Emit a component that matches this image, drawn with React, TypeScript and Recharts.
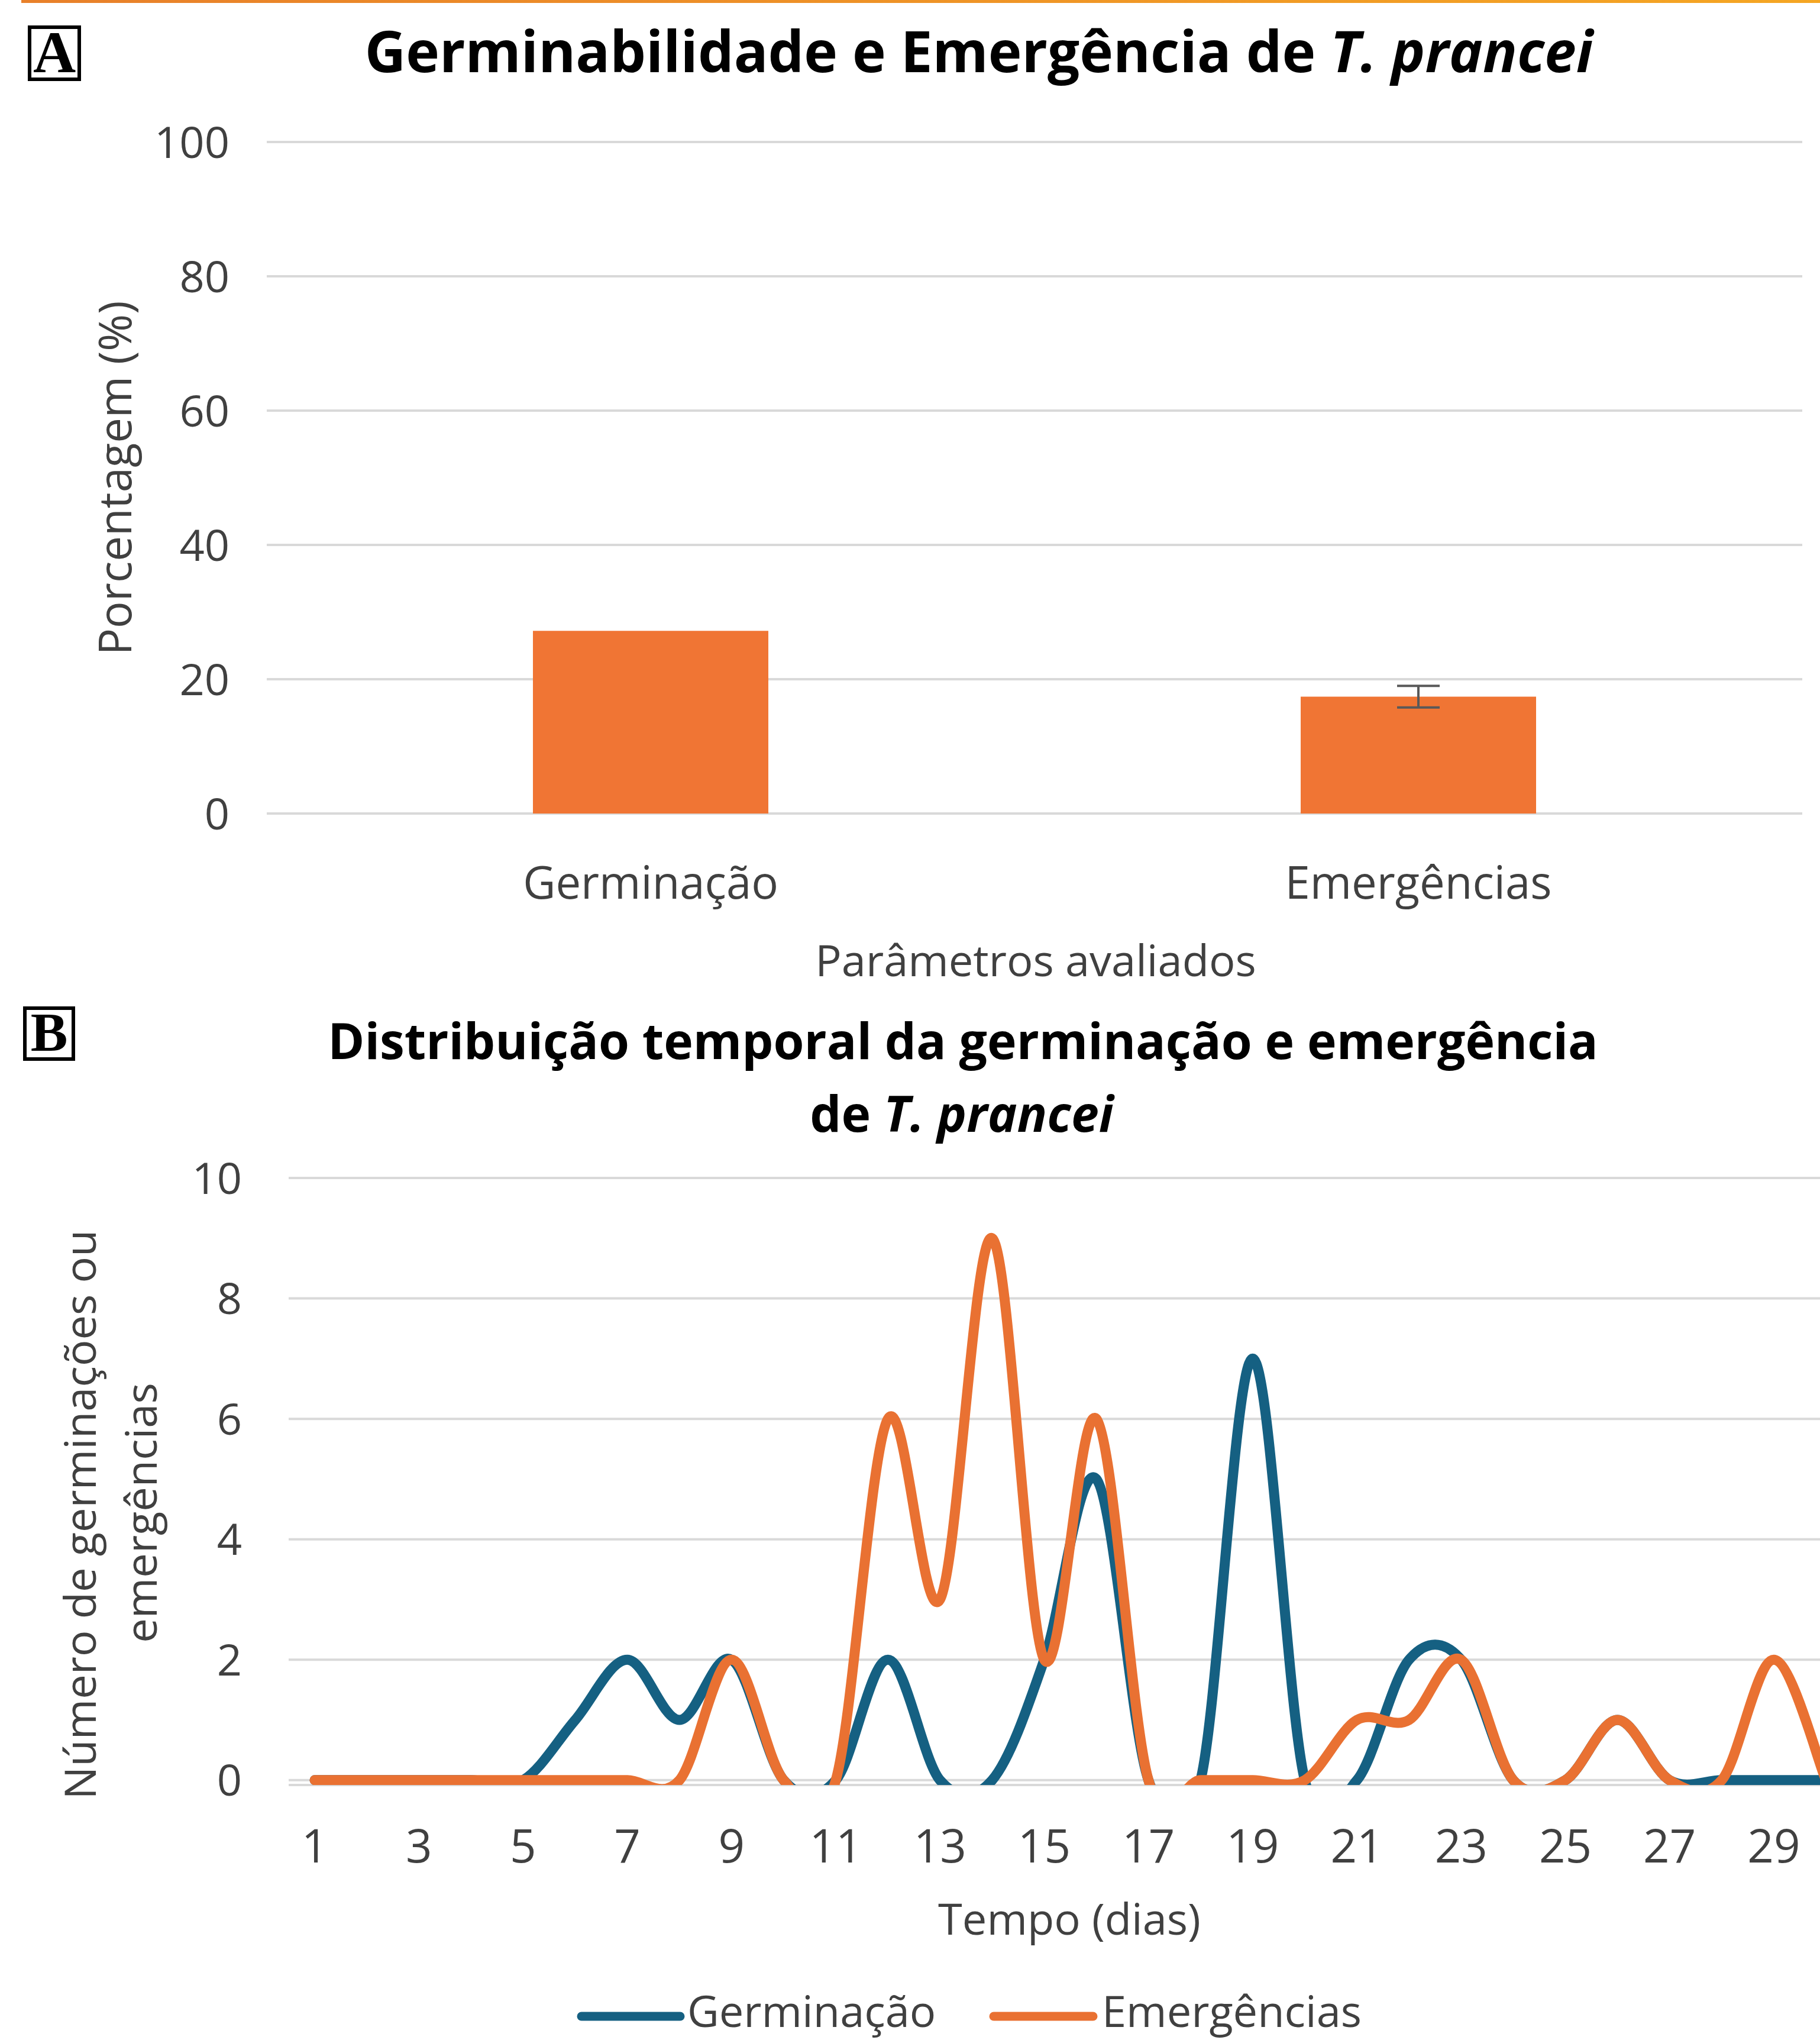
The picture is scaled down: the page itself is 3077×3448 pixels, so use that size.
import React from 'react';
import {
  BarChart,
  Bar,
  ErrorBar,
  LineChart,
  Line,
  XAxis,
  YAxis,
  CartesianGrid,
} from 'recharts';

// painel A
const parametros = ['Germinação', 'Emergências'];
const porcentagem = [27.2, 17.4];
const erroPadrao = [0, 1.6];
const ticksA = [0, 20, 40, 60, 80, 100];

// painel B
const dias = [1, 2, 3, 4, 5, 6, 7, 8, 9, 10, 11, 12, 13, 14, 15, 16, 17, 18, 19, 20, 21, 22, 23, 24, 25, 26, 27, 28, 29, 30];
const germinacao = [0, 0, 0, 0, 0, 1, 2, 1, 2, 0, 0, 2, 0, 0, 2, 5, 0, 0, 7, 0, 0, 2, 2, 0, 0, 1, 0, 0, 0, 0];
const emergencias = [0, 0, 0, 0, 0, 0, 0, 0, 2, 0, 0, 6, 3, 9, 2, 6, 0, 0, 0, 0, 1, 1, 2, 0, 0, 1, 0, 0, 2, 0];
const ticksB = [0, 2, 4, 6, 8, 10];

const series = [
  { key: 'germinacao', name: 'Germinação', color: '#156082' },
  { key: 'emergencias', name: 'Emergências', color: '#E97132' },
];

const dadosA = parametros.map((p, i) => ({ parametro: p, valor: porcentagem[i], erro: erroPadrao[i] }));
const dadosB = dias.map((d, i) => ({ dia: d, germinacao: germinacao[i], emergencias: emergencias[i] }));

const FONT = '"Open Sans", "Noto Sans", sans-serif';
const TEXT = '#404040';
const GRID = '#D9D9D9';

// suavizacao tipo Excel (Catmull-Rom)
function curvaSuave(context: any) {
  let pts: number[][] = [];
  return {
    areaStart() {},
    areaEnd() {},
    lineStart() {
      pts = [];
    },
    lineEnd() {
      const n = pts.length;
      if (!n) return;
      context.moveTo(pts[0][0], pts[0][1]);
      for (let i = 0; i < n - 1; i++) {
        const p0 = pts[Math.max(i - 1, 0)];
        const p1 = pts[i];
        const p2 = pts[i + 1];
        const p3 = pts[Math.min(i + 2, n - 1)];
        context.bezierCurveTo(
          p1[0] + (p2[0] - p0[0]) / 6,
          p1[1] + (p2[1] - p0[1]) / 6,
          p2[0] - (p3[0] - p1[0]) / 6,
          p2[1] - (p3[1] - p1[1]) / 6,
          p2[0],
          p2[1]
        );
      }
    },
    point(x: number, y: number) {
      pts.push([+x, +y]);
    },
  };
}

const YTick = ({ x, y, payload, size }: any) => (
  <text x={x} y={y} dy={size * 0.36} textAnchor="end" fontSize={size} fontFamily={FONT} fill={TEXT}>
    {payload.value}
  </text>
);

const XTick = ({ x, y, payload, size, offset }: any) => (
  <text x={x} y={y + offset} textAnchor="middle" fontSize={size} fontFamily={FONT} fill={TEXT}>
    {payload.value}
  </text>
);

export default function App() {
  return (
    <div style={{ position: 'absolute', left: 0, top: 0, width: 3077, height: 3448, overflow: 'hidden', background: '#fff' }}>
      <div style={{ position: 'absolute', left: 0, top: 0 }}>
        <BarChart width={3077} height={1575} data={dadosA} margin={{ top: 240, right: 30, left: 0, bottom: 0 }}>
          <CartesianGrid vertical={false} stroke={GRID} strokeWidth={4} />
          <XAxis
            dataKey="parametro"
            axisLine={false}
            tickLine={false}
            tickSize={0}
            height={200}
            interval={0}
            tick={<XTick size={76} offset={142} />}
          />
          <YAxis
            domain={[0, 100]}
            ticks={ticksA}
            width={451}
            axisLine={false}
            tickLine={false}
            tickSize={0}
            tickMargin={63}
            tick={<YTick size={74} />}
          />
          <Bar dataKey="valor" fill="#F07534" barSize={398} isAnimationActive={false}>
            <ErrorBar dataKey="erro" width={36} strokeWidth={4} stroke="#595959" />
          </Bar>
        </BarChart>
      </div>

      <div style={{ position: 'absolute', left: 0, top: 1900 }}>
        <LineChart width={3200} height={1317} data={dadosB} margin={{ top: 91, right: 69, left: 0, bottom: 0 }}>
          <CartesianGrid vertical={false} stroke={GRID} strokeWidth={4} />
          <XAxis
            dataKey="dia"
            axisLine={false}
            tickLine={false}
            tickSize={0}
            height={200}
            interval={1}
            padding={{ left: 44, right: 44 }}
            tick={<XTick size={78} offset={129} />}
          />
          <YAxis
            domain={[-0.08, 10]}
            ticks={ticksB}
            allowDataOverflow
            width={488}
            axisLine={false}
            tickLine={false}
            tickSize={0}
            tickMargin={79}
            tick={<YTick size={74} />}
          />
          {series.map((s) => (
            <Line
              key={s.key}
              dataKey={s.key}
              name={s.name}
              stroke={s.color}
              strokeWidth={17}
              strokeLinecap="round"
              strokeLinejoin="round"
              type={curvaSuave as any}
              dot={false}
              activeDot={false}
              isAnimationActive={false}
            />
          ))}
        </LineChart>
      </div>

      <svg width={3077} height={3448} style={{ position: 'absolute', left: 0, top: 0, pointerEvents: 'none' }}>
        <defs>
          <linearGradient id="faixa" x1="0" x2="1" y1="0" y2="0">
            <stop offset="0" stopColor="#E8802A" />
            <stop offset="1" stopColor="#F5A623" />
          </linearGradient>
        </defs>
        <rect x={36} y={0} width={3041} height={5} fill="url(#faixa)" />

        <rect x={50} y={46} width={84} height={88} fill="#fff" stroke="#000" strokeWidth={6} />
        <text x={92} y={122} textAnchor="middle" fontSize={100} fontWeight="bold" fontFamily='"Liberation Serif", serif'>A</text>
        <rect x={42} y={1704} width={82} height={86} fill="#fff" stroke="#000" strokeWidth={6} />
        <text x={83} y={1776} textAnchor="middle" fontSize={94} fontWeight="bold" fontFamily='"Liberation Serif", serif'>B</text>

        <text x={1655} y={122} textAnchor="middle" fontSize={96} fontWeight="bold" fontFamily={FONT} fill="#000">
          Germinabilidade e Emergência de <tspan fontStyle="italic">T. prancei</tspan>
        </text>
        <text transform="translate(222,808) rotate(-90)" textAnchor="middle" fontSize={76} fontFamily={FONT} fill={TEXT}>
          Porcentagem (%)
        </text>
        <text x={1751} y={1650} textAnchor="middle" fontSize={74} fontFamily={FONT} fill={TEXT}>
          Parâmetros avaliados
        </text>

        <text x={1628} y={1790} textAnchor="middle" fontSize={84} fontWeight="bold" fontFamily={FONT} fill="#000">
          Distribuição temporal da germinação e emergência
        </text>
        <text x={1626} y={1913} textAnchor="middle" fontSize={84} fontWeight="bold" fontFamily={FONT} fill="#000">
          de <tspan fontStyle="italic">T. prancei</tspan>
        </text>
        <text transform="translate(162,2560) rotate(-90)" textAnchor="middle" fontSize={74} fontFamily={FONT} fill={TEXT}>
          Número de germinações ou
        </text>
        <text transform="translate(265,2557) rotate(-90)" textAnchor="middle" fontSize={74} fontFamily={FONT} fill={TEXT}>
          emergências
        </text>
        <text x={1808} y={3270} textAnchor="middle" fontSize={74} fontFamily={FONT} fill={TEXT}>
          Tempo (dias)
        </text>

        <line x1={983} y1={3408} x2={1150} y2={3408} stroke={series[0].color} strokeWidth={15} strokeLinecap="round" />
        <text x={1162} y={3426} fontSize={74} fontFamily={FONT} fill={TEXT}>{series[0].name}</text>
        <line x1={1680} y1={3408} x2={1848} y2={3408} stroke={series[1].color} strokeWidth={15} strokeLinecap="round" />
        <text x={1863} y={3426} fontSize={74} fontFamily={FONT} fill={TEXT}>{series[1].name}</text>
      </svg>
    </div>
  );
}
